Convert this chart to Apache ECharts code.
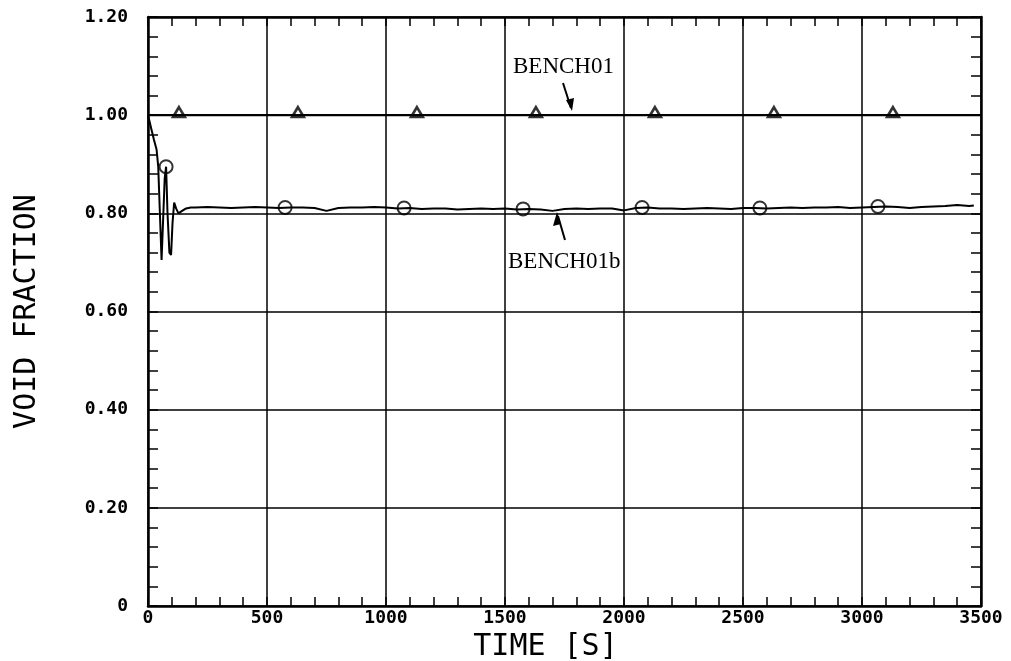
<!DOCTYPE html>
<html>
<head>
<meta charset="utf-8">
<script src="https://cdn.jsdelivr.net/npm/echarts@6/dist/echarts.min.js"></script>
<style>
  html, body { margin: 0; padding: 0; background: #fff; }
  #chart { width: 1011px; height: 661px; }
</style>
</head>
<body>
<div id="chart"></div>
<script>
// BENCH01 : flat line at 1.0 with triangle markers
const bench01Times = [0, 3500]
const bench01Values = [1.0, 1.0]
const bench01MarkTimes = [130, 630, 1130, 1630, 2130, 2630, 3130]
const bench01MarkValues = [1.0, 1.0, 1.0, 1.0, 1.0, 1.0, 1.0]

// BENCH01b : transient then about 0.81
const bench01bTimes = [0, 5, 15, 25, 36, 43, 50, 57, 63, 70, 76, 82, 90, 97, 103, 110, 118, 128, 140, 160, 180,
  200, 250, 300, 350, 400, 450, 500, 550, 600, 650, 700, 750, 800, 850, 900, 950, 1000, 1050, 1100, 1150,
  1200, 1250, 1300, 1350, 1400, 1450, 1500, 1550, 1600, 1650, 1700, 1750, 1800, 1850, 1900, 1950, 2000,
  2050, 2100, 2150, 2200, 2250, 2300, 2350, 2400, 2450, 2500, 2550, 2600, 2650, 2700, 2750, 2800, 2850,
  2900, 2950, 3000, 3050, 3100, 3150, 3200, 3250, 3300, 3350, 3400, 3450, 3470]
const bench01bValues = [1.0, 0.99, 0.97, 0.95, 0.93, 0.895, 0.80, 0.705, 0.78, 0.87, 0.895, 0.80, 0.72, 0.715, 0.78, 0.822, 0.81, 0.80, 0.804, 0.81, 0.812,
  0.812, 0.813, 0.812, 0.811, 0.812, 0.813, 0.812, 0.811, 0.812, 0.812, 0.811, 0.805, 0.811, 0.812, 0.812, 0.813, 0.812, 0.810, 0.811, 0.809,
  0.810, 0.810, 0.808, 0.809, 0.810, 0.809, 0.810, 0.808, 0.809, 0.808, 0.805, 0.809, 0.810, 0.809, 0.810, 0.810, 0.806,
  0.811, 0.812, 0.810, 0.810, 0.809, 0.810, 0.811, 0.810, 0.809, 0.811, 0.811, 0.810, 0.811, 0.812, 0.811, 0.812, 0.812,
  0.813, 0.811, 0.812, 0.813, 0.814, 0.813, 0.811, 0.813, 0.814, 0.815, 0.817, 0.815, 0.816]
const bench01bMarkTimes = [76, 576, 1076, 1576, 2076, 2571, 3067]
const bench01bMarkValues = [0.895, 0.812, 0.811, 0.809, 0.812, 0.811, 0.814]

const xTicks = ['0', '500', '1000', '1500', '2000', '2500', '3000', '3500']
const yTicks = ['0', '0.20', '0.40', '0.60', '0.80', '1.00', '1.20']

const pair = (xs, ys) => xs.map((x, i) => [x, ys[i]])

const myChart = echarts.init(document.getElementById('chart'))

const tickFont = { color: '#000', fontFamily: 'DejaVu Sans Mono', fontWeight: 'bold', fontSize: 18 }
const blackLine = { color: '#000', width: 2.5 }
const tickLine = { color: '#000', width: 1.5 }

const option = {
  backgroundColor: '#fff',
  animation: false,
  grid: { left: 148, right: 30, top: 17, bottom: 55, containLabel: false, outerBoundsMode: 'none' },
  xAxis: [
    {
      type: 'value', min: 0, max: 3500, interval: 500, position: 'bottom',
      name: 'TIME [S]', nameLocation: 'middle', nameGap: 22,
      nameTextStyle: { color: '#000', fontFamily: 'DejaVu Sans Mono', fontSize: 30, padding: [0, 38, 0, 0] },
      axisLine: { show: true, onZero: false, lineStyle: blackLine },
      axisTick: { show: true, inside: true, length: 9, lineStyle: tickLine },
      minorTick: { show: true, splitNumber: 5, length: 9, lineStyle: tickLine },
      axisLabel: Object.assign({ margin: 3, formatter: v => xTicks[Math.round(v / 500)] }, tickFont),
      splitLine: { show: true, lineStyle: { color: '#000', width: 1.5 } }
    },
    {
      type: 'value', min: 0, max: 3500, interval: 500, position: 'top',
      axisLine: { show: true, onZero: false, lineStyle: blackLine },
      axisTick: { show: true, inside: true, length: 9, lineStyle: tickLine },
      minorTick: { show: true, splitNumber: 5, length: 9, lineStyle: tickLine },
      axisLabel: { show: false },
      splitLine: { show: false }
    }
  ],
  yAxis: [
    {
      type: 'value', min: 0, max: 1.2, interval: 0.2, position: 'left',
      name: 'VOID FRACTION', nameLocation: 'middle', nameGap: 106,
      nameTextStyle: { color: '#000', fontFamily: 'DejaVu Sans Mono', fontSize: 30 },
      axisLine: { show: true, onZero: false, lineStyle: blackLine },
      axisTick: { show: true, inside: true, length: 10, lineStyle: tickLine },
      minorTick: { show: true, splitNumber: 5, length: 10, lineStyle: tickLine },
      axisLabel: Object.assign({ margin: 20, formatter: v => yTicks[Math.round(v / 0.2)] }, tickFont),
      splitLine: { show: true, lineStyle: { color: '#000', width: 1.5 } }
    },
    {
      type: 'value', min: 0, max: 1.2, interval: 0.2, position: 'right',
      axisLine: { show: true, onZero: false, lineStyle: blackLine },
      axisTick: { show: true, inside: true, length: 10, lineStyle: tickLine },
      minorTick: { show: true, splitNumber: 5, length: 10, lineStyle: tickLine },
      axisLabel: { show: false },
      splitLine: { show: false }
    }
  ],
  series: [
    {
      name: 'BENCH01', type: 'line', data: pair(bench01Times, bench01Values),
      showSymbol: false, lineStyle: { color: '#000', width: 2.2 }
    },
    {
      name: 'BENCH01 marks', type: 'scatter', data: pair(bench01MarkTimes, bench01MarkValues),
      symbol: 'triangle', symbolSize: [12, 10], symbolOffset: [0, -3],
      itemStyle: { color: '#fff', borderColor: '#000', borderWidth: 2.5 }
    },
    {
      name: 'BENCH01b', type: 'line', data: pair(bench01bTimes, bench01bValues),
      showSymbol: false, lineStyle: { color: '#000', width: 2 }
    },
    {
      name: 'BENCH01b marks', type: 'scatter', data: pair(bench01bMarkTimes, bench01bMarkValues),
      symbol: 'circle', symbolSize: 13,
      itemStyle: { color: 'rgba(255,255,255,0)', borderColor: '#000', borderWidth: 2 }
    }
  ],
  graphic: [
    { type: 'text', left: 513, top: 55, style: { text: 'BENCH01', font: '23px "Liberation Serif"', fill: '#000' } },
    { type: 'line', shape: { x1: 563, y1: 83, x2: 571, y2: 108 }, style: { stroke: '#000', lineWidth: 2 } },
    { type: 'polygon', shape: { points: [[566, 100], [574, 98], [572, 111]] }, style: { fill: '#000' } },
    { type: 'text', left: 508, top: 250, style: { text: 'BENCH01b', font: '23px "Liberation Serif"', fill: '#000' } },
    { type: 'line', shape: { x1: 565, y1: 240, x2: 558, y2: 216 }, style: { stroke: '#000', lineWidth: 2 } },
    { type: 'polygon', shape: { points: [[553, 226], [561, 224], [557, 212]] }, style: { fill: '#000' } }
  ]
}

myChart.setOption(option)
</script>
</body>
</html>
